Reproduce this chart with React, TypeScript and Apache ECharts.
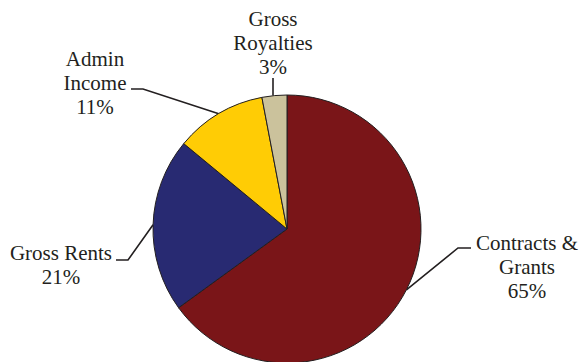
import React, { useEffect, useRef } from "react";
import * as echarts from "echarts";

const categories = ["Contracts &\nGrants", "Gross Rents", "Admin\nIncome", "Gross\nRoyalties"];
const percents = [65, 21, 11, 3];
const colors = ["#7A1518", "#282A72", "#FFCC05", "#CBC29C"];

// label placement (centre of text block) and leader elbow points
const labelCenters = [
  [527, 267],
  [61, 265],
  [95, 83],
  [273, 43],
];
const elbows = [
  [[458, 248], [471, 248]],
  [[128, 260], [116, 260]],
  [[143, 89], [131, 89]],
  [null, [273, 78]],
];
const LINE_H = 24;
const FONT = "Liberation Serif";

export default function App() {
  const ref = useRef<HTMLDivElement>(null);
  useEffect(() => {
    if (!ref.current) return;
    const chart = echarts.init(ref.current, null, { renderer: "svg" });

    const texts: any[] = [];
    categories.forEach((name, i) => {
      const lines = [...name.split("\n"), `${percents[i]}%`];
      const c = labelCenters[i];
      lines.forEach((ln, k) => {
        texts.push({
          type: "text",
          x: c[0],
          y: c[1] + (k - (lines.length - 1) / 2) * LINE_H,
          silent: true,
          style: {
            text: ln,
            fontFamily: FONT,
            fontSize: 21,
            fill: "#231F20",
            textAlign: "center",
            textVerticalAlign: "middle",
            align: "center",
            verticalAlign: "middle",
          },
        });
      });
    });

    chart.setOption({
      animation: false,
      backgroundColor: "#ffffff",
      graphic: texts,
      series: [
        {
          type: "pie",
          center: [287, 229],
          radius: 134,
          startAngle: 90,
          clockwise: true,
          avoidLabelOverlap: false,
          itemStyle: { borderColor: "#231F20", borderWidth: 1 },
          label: {
            show: true,
            position: "outside",
            formatter: " ",
            fontSize: 12,
            color: "rgba(0,0,0,0)",
          },
          labelLine: {
            show: true,
            length: 15,
            length2: 10,
            lineStyle: { color: "#231F20", width: 1.6 },
          },
          labelLayout: (params: any) => {
            const i = params.dataIndex;
            const c = labelCenters[i];
            const pts = params.labelLinePoints;
            const start = pts && pts[0] ? pts[0] : [c[0], c[1]];
            const e = elbows[i];
            let linePts;
            if (e[0]) {
              linePts = [start, e[0], e[1]];
            } else {
              linePts = [[e[1][0], start[1]], [e[1][0], (start[1] + e[1][1]) / 2], e[1]];
            }
            return {
              x: c[0],
              y: c[1],
              align: "center",
              verticalAlign: "middle",
              labelLinePoints: linePts,
            };
          },
          data: categories.map((name, i) => ({
            name,
            value: percents[i],
            itemStyle: { color: colors[i] },
          })),
        },
      ],
    });
    return () => chart.dispose();
  }, []);
  return (
    <div
      ref={ref}
      style={{ position: "fixed", left: 0, top: 0, width: 581, height: 362 }}
    />
  );
}
